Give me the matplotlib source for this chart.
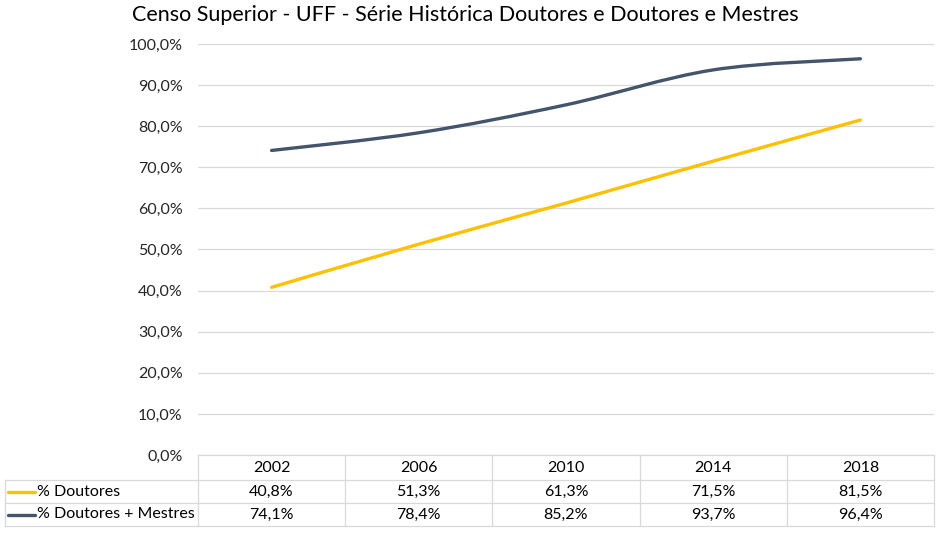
import numpy as np
import matplotlib
matplotlib.use('Agg')
import matplotlib.pyplot as plt
from matplotlib.path import Path
from matplotlib.patches import PathPatch

# Data
anos = ['2002', '2006', '2010', '2014', '2018']
doutores = [40.8, 51.3, 61.3, 71.5, 81.5]
doutores_mestres = [74.1, 78.4, 85.2, 93.7, 96.4]
series_nomes = ['% Doutores', '% Doutores + Mestres']
cores = ['#FFC000', '#44546A']
yticks = [0, 10, 20, 30, 40, 50, 60, 70, 80, 90, 100]

plt.rcParams['font.family'] = ['Lato', 'DejaVu Sans']

fig = plt.figure(figsize=(9.4, 5.35), dpi=100)
W, H = 940, 535
left, right, top, bottom = 198, 934, 44, 455
ax = fig.add_axes([left / W, 1 - bottom / H, (right - left) / W, (bottom - top) / H])
fs = 11.5


def smooth_path(x, y):
    # Excel-like smoothed line: Catmull-Rom converted to cubic Bezier
    x = np.asarray(x, float)
    y = np.asarray(y, float)
    verts = [(x[0], y[0])]
    codes = [Path.MOVETO]
    n = len(x)
    for i in range(n - 1):
        p0 = (x[max(i - 1, 0)], y[max(i - 1, 0)])
        p1 = (x[i], y[i])
        p2 = (x[i + 1], y[i + 1])
        p3 = (x[min(i + 2, n - 1)], y[min(i + 2, n - 1)])
        c1 = (p1[0] + (p2[0] - p0[0]) / 6, p1[1] + (p2[1] - p0[1]) / 6)
        c2 = (p2[0] - (p3[0] - p1[0]) / 6, p2[1] - (p3[1] - p1[1]) / 6)
        verts += [c1, c2, p2]
        codes += [Path.CURVE4] * 3
    return Path(verts, codes)


xs = np.arange(len(anos))
for vals, cor in zip([doutores, doutores_mestres], cores):
    patch = PathPatch(smooth_path(xs, vals), facecolor='none', edgecolor=cor,
                      lw=2.4, capstyle='round', zorder=3)
    ax.add_patch(patch)

ax.set_xlim(-0.5, len(anos) - 0.5)
ax.set_ylim(0, 100)
ax.set_yticks(yticks)
ax.set_yticklabels([f'{v:.1f}%'.replace('.', ',') for v in yticks], fontsize=fs, color='#262626')
ax.set_xticks([])
ax.grid(axis='y', color='#d9d9d9', lw=0.9)
ax.set_axisbelow(True)
for s in ['top', 'right', 'left', 'bottom']:
    ax.spines[s].set_visible(False)
ax.tick_params(axis='y', length=0, pad=11)

fig.text(0.495, 0.972, 'Censo Superior - UFF - Série Histórica Doutores e Doutores e Mestres',
         ha='center', va='center', fontsize=15.5, color='#000000')

# Data table below the axis
px = 1.0 / (bottom - top)
row_edges = [0, -25 * px, -48 * px, -71 * px]
line_kw = dict(color='#d9d9d9', lw=0.9, clip_on=False, transform=ax.transAxes)
ax_l = (5 - left) / (right - left)
# horizontal lines
ax.plot([0, 1], [row_edges[0]] * 2, **line_kw)
for yy in row_edges[1:]:
    ax.plot([ax_l, 1], [yy, yy], **line_kw)
# vertical lines
for i in range(len(anos) + 1):
    ax.plot([i / len(anos)] * 2, [row_edges[0], row_edges[3]], **line_kw)
ax.plot([ax_l, ax_l], [row_edges[1], row_edges[3]], **line_kw)

tr = ax.get_xaxis_transform()
hy = (row_edges[0] + row_edges[1]) / 2
for i, ano in enumerate(anos):
    ax.text(i, hy, ano, transform=tr, ha='center', va='center', fontsize=fs, color='#000000')
for r, (vals, nome, cor) in enumerate(zip([doutores, doutores_mestres], series_nomes, cores)):
    cy = (row_edges[r + 1] + row_edges[r + 2]) / 2
    for i, v in enumerate(vals):
        ax.text(i, cy, f'{v:.1f}%'.replace('.', ','), transform=tr, ha='center', va='center',
                fontsize=fs, color='#000000')
    x0 = (8 - left) / (right - left)
    x1 = (35 - left) / (right - left)
    ax.plot([x0, x1], [cy, cy], color=cor, lw=2.4, solid_capstyle='round',
            clip_on=False, transform=ax.transAxes)
    ax.text((37 - left) / (right - left), cy, nome, transform=ax.transAxes, ha='left',
            va='center', fontsize=fs, color='#000000')

fig.savefig('out.png', dpi=100)
